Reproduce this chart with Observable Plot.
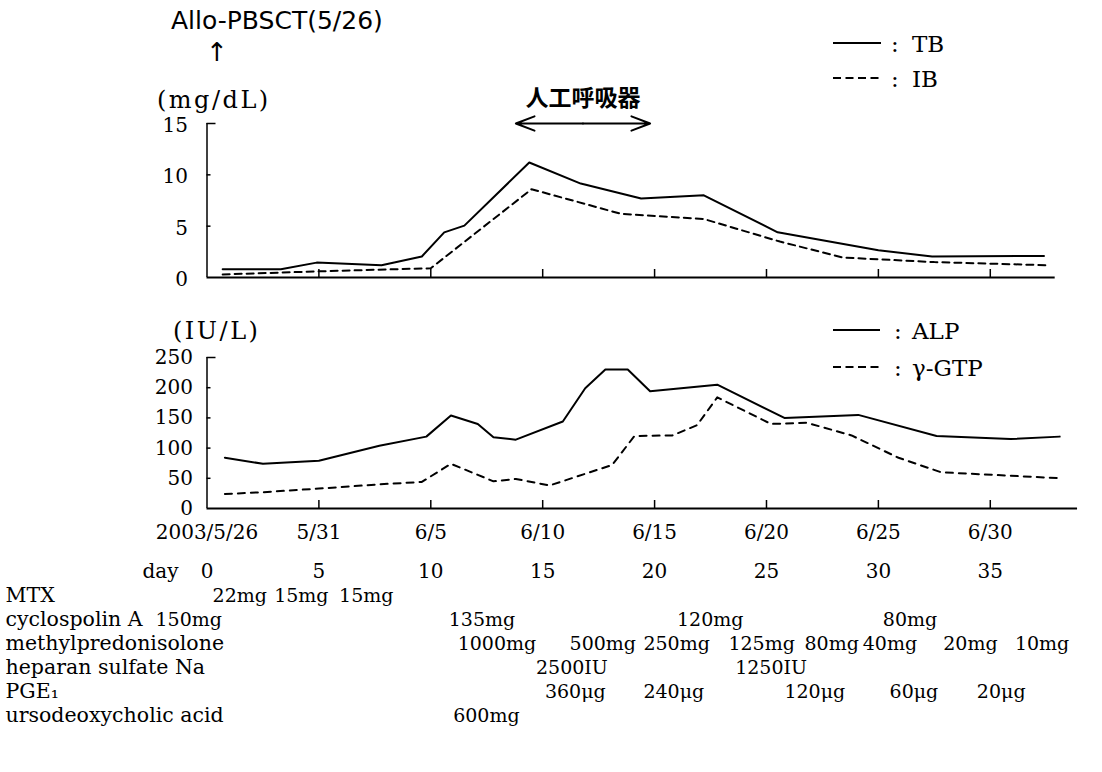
<!DOCTYPE html>
<html>
<head>
<meta charset="utf-8">
<script src="https://cdn.jsdelivr.net/npm/d3@7"></script>
<script src="https://cdn.jsdelivr.net/npm/@observablehq/plot@0.6"></script>
<style>
html,body{margin:0;padding:0;background:#fff;}
#wrap{position:relative;width:1102px;height:772px;overflow:hidden;background:#fff;color:#000;font-family:"DejaVu Serif",serif;}
#wrap > svg{position:absolute;left:0;}
.t{position:absolute;white-space:nowrap;line-height:1;transform:translateY(-50%);}
.sw{position:absolute;}
</style>
</head>
<body>
<div id="wrap"></div>
<script>
// ---------------- data ----------------
// day 0 = 2003/5/26
const tbDays = [0.7, 3.3, 4.9, 7.8, 9.6, 10.6, 11.5, 14.4, 16.7, 19.4, 22.2, 25.5, 30.0, 32.4, 37.4];
const tbVals = [0.8, 0.8, 1.45, 1.2, 2.05, 4.4, 5.05, 11.2, 9.15, 7.7, 8.0, 4.4, 2.65, 2.05, 2.1];
const ibDays = [0.7, 5.0, 10.0, 14.5, 18.5, 22.2, 25.6, 28.4, 32.5, 37.5];
const ibVals = [0.3, 0.6, 0.9, 8.6, 6.2, 5.7, 3.5, 1.95, 1.5, 1.2];
const alpDays = [0.8, 2.5, 5.0, 7.7, 9.8, 10.9, 12.1, 12.8, 13.8, 15.9, 16.9, 17.8, 18.8, 19.8, 22.8, 25.8, 29.1, 32.6, 35.9, 38.1];
const alpVals = [84, 74, 79, 104, 119, 154, 140, 118, 114, 144, 199, 230, 230, 194, 205, 150, 155, 120, 115, 119];
const gtpDays = [0.8, 2.5, 5.0, 7.7, 9.6, 10.9, 12.8, 13.8, 15.3, 18.1, 19.1, 20.8, 21.9, 22.8, 25.2, 26.8, 28.8, 30.9, 32.8, 38.2];
const gtpVals = [24, 27, 33, 40, 44, 74, 45, 49, 38, 72, 120, 121, 138, 184, 140, 142, 121, 84, 60, 50];

const dayTicks = [0, 5, 10, 15, 20, 25, 30, 35];
const dateLabels = ["2003/5/26", "5/31", "6/5", "6/10", "6/15", "6/20", "6/25", "6/30"];
const topYTicks = [0, 5, 10, 15];
const botYTicks = [0, 50, 100, 150, 200, 250];

const ventStart = 13.8, ventEnd = 19.8, ventLabel = "人工呼吸器";

const drugRows = ["MTX", "cyclospolin A", "methylpredonisolone", "heparan sulfate Na", "PGE₁", "ursodeoxycholic acid"];
const mtxDays = [0.25, 3.0, 5.9];            const mtxDoses = ["22mg", "15mg", "15mg"];
const csaDays = [-2.3, 10.8, 21.0, 30.2];    const csaDoses = ["150mg", "135mg", "120mg", "80mg"];
const mpslDays = [11.2, 16.2, 19.5, 23.3, 26.7, 29.3, 32.9, 36.1];
const mpslDoses = ["1000mg", "500mg", "250mg", "125mg", "80mg", "40mg", "20mg", "10mg"];
const hepDays = [14.7, 23.6];                const hepDoses = ["2500IU", "1250IU"];
const pgeDays = [15.1, 19.5, 25.8, 30.5, 34.4]; const pgeDoses = ["360μg", "240μg", "120μg", "60μg", "20μg"];
const udcaDays = [11.0];                      const udcaDoses = ["600mg"];

// ---------------- layout ----------------
const W = 1102, ML = 206.5, XEND = 1079.3, MR = W - XEND;
const XD = [0, 39];
const FRAME_W = XEND - ML;
const SERIF = "'DejaVu Serif', serif";
const series = (days, vals) => days.map((d, i) => ({day: d, v: vals[i]}));

const wrap = document.getElementById("wrap");

// ---------- top chart (bilirubin) ----------
const topH = 300, topMT = 123, topMB = 23, topFH = topH - topMT - topMB;
const topChart = Plot.plot({
  width: W, height: topH,
  marginLeft: ML, marginRight: MR, marginTop: topMT, marginBottom: topMB,
  x: {domain: XD, axis: null},
  y: {domain: [0, 15], axis: null},
  style: {fontFamily: SERIF, fontSize: "20px", background: "transparent", overflow: "visible"},
  marks: [
    Plot.ruleX([0], {y1: 0, y2: 15, strokeWidth: 1.5}),
    Plot.ruleY([0], {x1: 0, x2: 37.9, strokeWidth: 2}),
    Plot.tickX(dayTicks.slice(1), {x: d => d, insetTop: topFH - 8, strokeWidth: 1.5}),
    Plot.tickY(topYTicks.slice(1, -1), {y: d => d, insetRight: FRAME_W - 4, strokeWidth: 1.5}),
    Plot.tickY(topYTicks.slice(-1), {y: d => d, insetRight: FRAME_W - 9, strokeWidth: 1.5}),
    Plot.text(topYTicks, {x: 0, y: d => d, text: d => String(d), textAnchor: "end", dx: -19, dy: 2, fontSize: 20}),
    Plot.line(series(tbDays, tbVals), {x: "day", y: "v", stroke: "black", strokeWidth: 2}),
    Plot.line(series(ibDays, ibVals), {x: "day", y: "v", stroke: "black", strokeWidth: 2, strokeDasharray: "7,5"}),
    Plot.arrow([{a: (ventStart + ventEnd) / 2, b: ventStart}, {a: (ventStart + ventEnd) / 2, b: ventEnd}],
      {x1: "a", x2: "b", y1: 15, y2: 15, headLength: 15, headAngle: 42, strokeWidth: 2}),
    Plot.text([ventLabel], {x: (ventStart + ventEnd) / 2, y: 15, dy: -25, fontFamily: "'Noto Sans CJK JP', sans-serif", fontWeight: "bold", fontSize: 23})
  ]
});
topChart.style.top = "0px";
wrap.appendChild(topChart);

// ---------- bottom chart (enzymes) ----------
const botTop = 300, botH = 240, botMT = 57, botMB = 32, botFH = botH - botMT - botMB;
const botChart = Plot.plot({
  width: W, height: botH,
  marginLeft: ML, marginRight: MR, marginTop: botMT, marginBottom: botMB,
  x: {domain: XD, axis: null},
  y: {domain: [0, 250], axis: null},
  style: {fontFamily: SERIF, fontSize: "20px", background: "transparent", overflow: "visible"},
  marks: [
    Plot.ruleX([0], {y1: 0, y2: 250, strokeWidth: 1.5}),
    Plot.ruleY([0], {x1: 0, x2: 38.9, strokeWidth: 2}),
    Plot.tickX(dayTicks.slice(1), {x: d => d, insetTop: botFH - 8, strokeWidth: 1.5}),
    Plot.tickY(botYTicks.slice(1, -1), {y: d => d, insetRight: FRAME_W - 4, strokeWidth: 1.5}),
    Plot.tickY(botYTicks.slice(-1), {y: d => d, insetRight: FRAME_W - 9, strokeWidth: 1.5}),
    Plot.text(botYTicks, {x: 0, y: d => d, text: d => String(d), textAnchor: "end", dx: -14, dy: 0, fontSize: 20}),
    Plot.text(dayTicks, {x: d => d, y: 0, text: (d, i) => dateLabels[i], dy: 24, fontSize: 20}),
    Plot.line(series(alpDays, alpVals), {x: "day", y: "v", stroke: "black", strokeWidth: 2}),
    Plot.line(series(gtpDays, gtpVals), {x: "day", y: "v", stroke: "black", strokeWidth: 2, strokeDasharray: "7,6"})
  ]
});
botChart.style.top = botTop + "px";
wrap.appendChild(botChart);

// ---------- medication table ----------
const tabTop = 540, tabH = 232;
const rowKeys = ["day", ...drugRows];
const doses = [
  ...mtxDays.map((d, i) => ({day: d, row: "MTX", label: mtxDoses[i]})),
  ...csaDays.map((d, i) => ({day: d, row: "cyclospolin A", label: csaDoses[i]})),
  ...mpslDays.map((d, i) => ({day: d, row: "methylpredonisolone", label: mpslDoses[i]})),
  ...hepDays.map((d, i) => ({day: d, row: "heparan sulfate Na", label: hepDoses[i]})),
  ...pgeDays.map((d, i) => ({day: d, row: "PGE₁", label: pgeDoses[i]})),
  ...udcaDays.map((d, i) => ({day: d, row: "ursodeoxycholic acid", label: udcaDoses[i]}))
];
const table = Plot.plot({
  width: W, height: tabH,
  marginLeft: ML, marginRight: MR, marginTop: 0, marginBottom: 0,
  x: {domain: XD, axis: null},
  y: {type: "point", domain: rowKeys, range: [29, 176], padding: 0, axis: null},
  style: {fontFamily: SERIF, fontSize: "20px", background: "transparent", overflow: "visible"},
  marks: [
    Plot.text(["day"], {y: d => d, frameAnchor: "left", dx: 142 - ML, textAnchor: "start", fontSize: 20}),
    Plot.text(dayTicks, {x: d => d, y: () => "day", text: d => String(d), fontSize: 20}),
    Plot.text(drugRows, {y: d => d, frameAnchor: "left", dx: 5 - ML, textAnchor: "start", fontSize: 20.5}),
    Plot.text(doses, {x: "day", y: "row", text: "label", textAnchor: "start", fontSize: 19})
  ]
});
table.style.top = tabTop + "px";
wrap.appendChild(table);

// ---------- header texts and legends ----------
function txt(s, x, cy, opts = {}) {
  const el = document.createElement("div");
  el.className = "t";
  el.textContent = s;
  el.style.left = x + "px";
  el.style.top = cy + "px";
  el.style.fontSize = (opts.size || 22) + "px";
  if (opts.family) el.style.fontFamily = opts.family;
  if (opts.ls) el.style.letterSpacing = opts.ls + "px";
  if (opts.center) el.style.transform = "translate(-50%,-50%)";
  wrap.appendChild(el);
}
function swatch(x1, x2, y, dashed) {
  const ns = "http://www.w3.org/2000/svg";
  const s = document.createElementNS(ns, "svg");
  s.setAttribute("class", "sw");
  s.setAttribute("width", x2 - x1);
  s.setAttribute("height", 6);
  s.style.left = x1 + "px";
  s.style.top = (y - 3) + "px";
  const l = document.createElementNS(ns, "line");
  l.setAttribute("x1", 0); l.setAttribute("x2", x2 - x1);
  l.setAttribute("y1", 3); l.setAttribute("y2", 3);
  l.setAttribute("stroke", "black"); l.setAttribute("stroke-width", 2);
  if (dashed) l.setAttribute("stroke-dasharray", "8,4.5");
  s.appendChild(l);
  wrap.appendChild(s);
}

txt("Allo-PBSCT(5/26)", 171, 20, {size: 25, family: "'DejaVu Sans', sans-serif"});
txt("↑", 217, 52, {size: 26, family: "'DejaVu Sans', sans-serif", center: true});
txt("(mg/dL)", 157, 100, {size: 24, ls: 2.5});
txt("(IU/L)", 173, 331, {size: 24, ls: 2.5});

const legTop = [{name: "TB", y: 43, dashed: false}, {name: "IB", y: 78, dashed: true}];
const legBot = [{name: "ALP", y: 330, dashed: false}, {name: "γ-GTP", y: 367, dashed: true}];
legTop.forEach(e => { swatch(833, 881, e.y, e.dashed); txt(":", 891, e.y + 1, {size: 23}); txt(e.name, 912, e.y + 1, {size: 23}); });
legBot.forEach(e => { swatch(833, 880, e.y, e.dashed); txt(":", 894, e.y + 1, {size: 23}); txt(e.name, 912, e.y + 1, {size: 23}); });
</script>
</body>
</html>
